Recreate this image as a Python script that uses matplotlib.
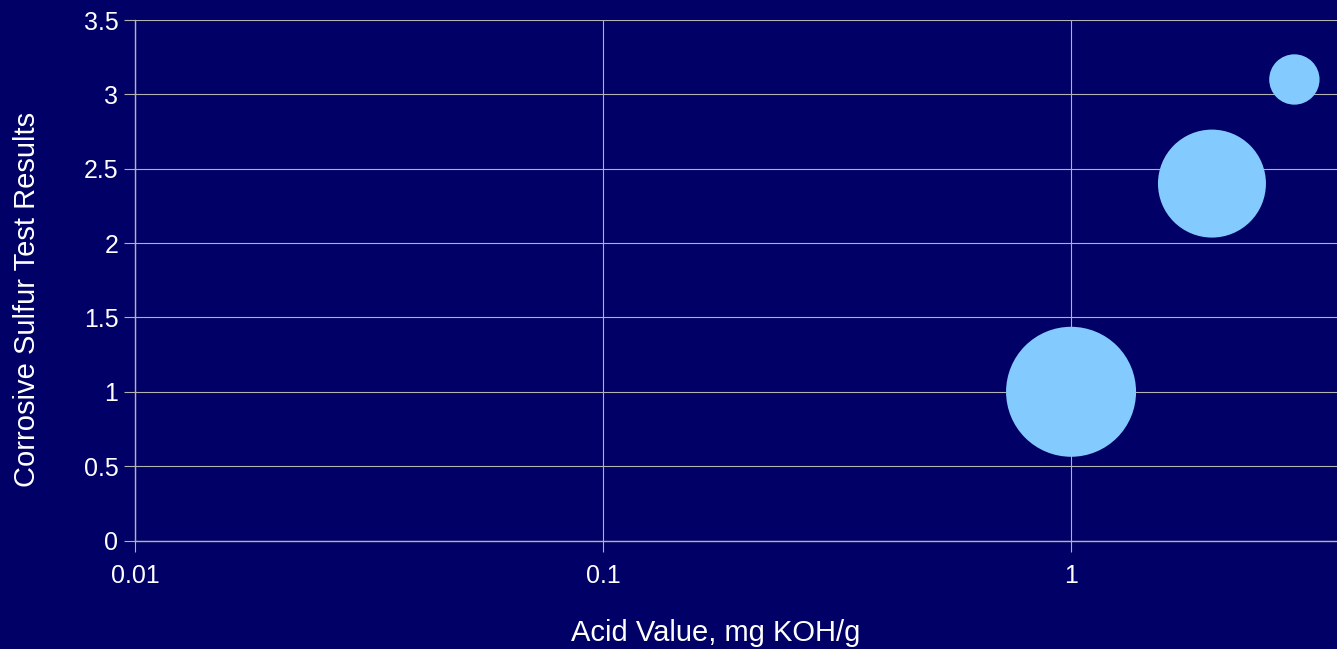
import numpy as np
import matplotlib
matplotlib.use('Agg')
import matplotlib.pyplot as plt

# bubble data
acid_value = [1.0, 2.0, 3.0]          # mg KOH/g
sulfur_result = [1.0, 2.4, 3.1]
bubble_size = [100, 69, 15]            # relative bubble area

x_ticks = [0.01, 0.1, 1]
x_tick_labels = ['0.01', '0.1', '1']
y_ticks = [0, 0.5, 1, 1.5, 2, 2.5, 3, 3.5]
y_tick_labels = ['0', '0.5', '1', '1.5', '2', '2.5', '3', '3.5']

bg = '#000066'
bubble_color = '#83caff'
grid_color = '#b3b3b3'

plt.rcParams['font.family'] = ['Liberation Sans', 'DejaVu Sans']

W, H = 1337, 649
fig = plt.figure(figsize=(W / 100, H / 100), dpi=100, facecolor=bg)
ax = fig.add_axes([135 / W, 1 - 540.5 / H, (W - 135) / W, (540.5 - 20) / H])
ax.set_facecolor(bg)

# largest bubble is ~130 px across
max_d_pt = 130 * 0.72
sizes = np.array(bubble_size) / max(bubble_size) * max_d_pt ** 2
ax.scatter(acid_value, sulfur_result, s=sizes, color=bubble_color,
           edgecolors='none', zorder=3)

ax.set_xscale('log')
ax.set_xlim(0.01, 3.7)
ax.set_ylim(0, 3.5)
ax.set_xticks(x_ticks)
ax.set_xticklabels(x_tick_labels)
ax.xaxis.set_minor_locator(matplotlib.ticker.NullLocator())
ax.set_yticks(y_ticks)
ax.set_yticklabels(y_tick_labels)

ax.grid(True, color=grid_color, linewidth=0.8, zorder=1)
ax.set_axisbelow(True)
for side in ['top', 'right']:
    ax.spines[side].set_visible(False)
for side in ['left', 'bottom']:
    ax.spines[side].set_color(grid_color)
    ax.spines[side].set_linewidth(1.0)

ax.tick_params(axis='both', colors=grid_color, labelcolor='white',
               labelsize=18, length=8, width=0.8)
ax.tick_params(axis='y', pad=4)
ax.tick_params(axis='x', pad=9)

fig.text(716 / W, 1 - 633 / H, 'Acid Value, mg KOH/g', color='white',
         fontsize=21, ha='center', va='center')
fig.text(27 / W, 1 - 299 / H, 'Corrosive Sulfur Test Results', color='white',
         fontsize=21, ha='center', va='center', rotation=90)

fig.savefig('out.png', dpi=100, facecolor=bg)
